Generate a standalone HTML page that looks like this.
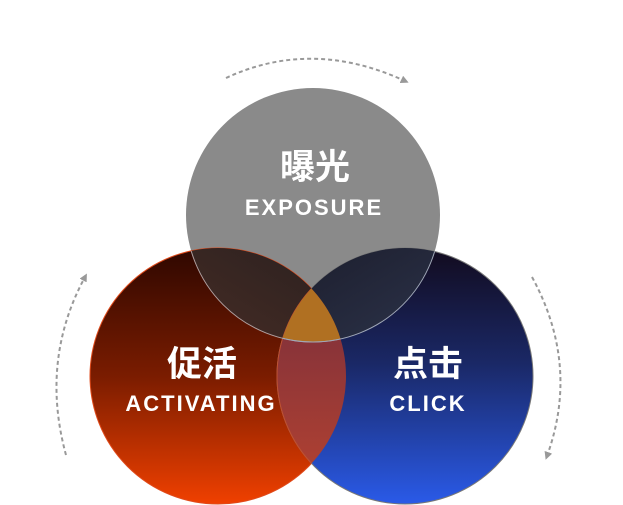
<!DOCTYPE html>
<html><head><meta charset="utf-8"><style>
html,body{margin:0;padding:0;background:#fff;width:623px;height:505px;overflow:hidden}
svg{display:block}
text{font-family:"Liberation Sans","Noto Sans CJK SC",sans-serif;font-weight:bold;fill:#fff;text-anchor:middle}
</style></head><body>
<svg width="623" height="505" viewBox="0 0 623 505" xmlns="http://www.w3.org/2000/svg">
<defs>
<linearGradient id="rg" x1="0" y1="0" x2="0" y2="1"><stop offset="0" stop-color="#2e0700"/><stop offset="0.5" stop-color="#7a1c00"/><stop offset="1" stop-color="#f04000"/></linearGradient>
<linearGradient id="bg" x1="0" y1="0" x2="0" y2="1"><stop offset="0" stop-color="#120b1e"/><stop offset="0.45" stop-color="#1a2866"/><stop offset="1" stop-color="#2a5ae8"/></linearGradient>
<linearGradient id="gr" x1="0.2" y1="1" x2="0.8" y2="0"><stop offset="0" stop-color="#64382b"/><stop offset="1" stop-color="#2e2220"/></linearGradient>
<linearGradient id="gb" x1="0.8" y1="1" x2="0.2" y2="0"><stop offset="0" stop-color="#3c4968"/><stop offset="1" stop-color="#1e2030"/></linearGradient>
<linearGradient id="rb" x1="0" y1="0" x2="0" y2="1"><stop offset="0" stop-color="#6e2a3e"/><stop offset="1" stop-color="#b84430"/></linearGradient>
<clipPath id="cg"><circle cx="313" cy="215" r="127"/></clipPath>
<clipPath id="cr"><circle cx="218" cy="376" r="128"/></clipPath>
<clipPath id="cb"><circle cx="405" cy="376" r="128"/></clipPath>
<marker id="ah" viewBox="0 0 10 10" refX="5" refY="5" markerWidth="4" markerHeight="4" orient="auto"><path d="M0,0 L10,5 L0,10 z" fill="#999"/></marker>
</defs>
<circle cx="313" cy="215" r="127" fill="#8a8a8a"/>
<circle cx="218" cy="376" r="128" fill="url(#rg)" stroke="#e04a1a" stroke-width="1"/>
<circle cx="405" cy="376" r="128" fill="url(#bg)" stroke="#777" stroke-width="1"/>
<g clip-path="url(#cg)"><circle cx="218" cy="376" r="128" fill="url(#gr)"/><circle cx="405" cy="376" r="128" fill="url(#gb)"/></g>
<g clip-path="url(#cr)"><circle cx="405" cy="376" r="128" fill="url(#rb)" stroke="#c05030" stroke-width="1"/></g>
<g clip-path="url(#cr)"><g clip-path="url(#cb)"><circle cx="313" cy="215" r="127" fill="#b07022"/></g></g>
<g clip-path="url(#cr)"><circle cx="313" cy="215" r="127" fill="none" stroke="#b0a0a0" stroke-width="1"/></g>
<g clip-path="url(#cb)"><circle cx="313" cy="215" r="127" fill="none" stroke="#a0a8b8" stroke-width="1"/></g>
<path d="M226,78 Q312,38 405,81" fill="none" stroke="#999" stroke-width="2" stroke-dasharray="4,3" marker-end="url(#ah)"/>
<path d="M66,455 Q40,360 85,277" fill="none" stroke="#999" stroke-width="2" stroke-dasharray="4,3" marker-end="url(#ah)"/>
<path d="M532,277 Q580,365 547,456" fill="none" stroke="#999" stroke-width="2" stroke-dasharray="4,3" marker-end="url(#ah)"/>
<text x="315" y="179" font-size="35">曝光</text>
<text x="314" y="215" font-size="22" letter-spacing="2">EXPOSURE</text>
<text x="202" y="376" font-size="35">促活</text>
<text x="201" y="411" font-size="22" letter-spacing="2">ACTIVATING</text>
<text x="428" y="376" font-size="35">点击</text>
<text x="428" y="411" font-size="22" letter-spacing="2">CLICK</text>
</svg>
</body></html>
